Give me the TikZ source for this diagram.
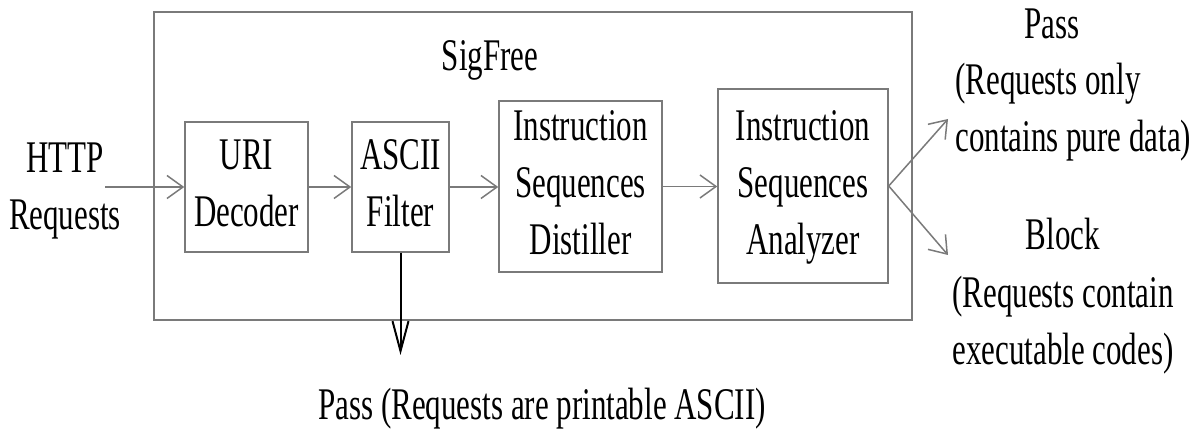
\documentclass[tikz,border=0pt]{standalone}
\usepackage{fontspec}
\setmainfont{Liberation Serif}
\usepackage{graphicx}
\usetikzlibrary{arrows.meta}
\definecolor{boxgray}{HTML}{7A7A7A}
\newcommand{\vsc}[1]{\scalebox{1}[1.46]{#1}}
\newcommand{\stk}[1]{\vsc{\begin{tabular}{@{}c@{}}#1\end{tabular}}}
\begin{document}
\begin{tikzpicture}[x=0.5pt,y=-0.5pt,
  lbl/.style={font=\fontsize{15.5pt}{19.5pt}\selectfont, inner sep=0pt},
  blk/.style={draw=boxgray, line width=0.75pt, inner sep=0pt, font=\fontsize{15.5pt}{19.5pt}\selectfont},
  conn/.style={draw=boxgray, line width=0.75pt, -{Straight Barb[length=8pt,width=11.5pt]}},
  downarr/.style={draw=black, line width=1pt, -{Straight Barb[length=15pt,width=8pt]}}]
\useasboundingbox (0,0) rectangle (1200,432);

% container
\node[blk, minimum width=379pt, minimum height=154pt] (sigfree) at (533,166) {};
\node[lbl, anchor=base] (sftitle) at (490,71) {\vsc{SigFree}};

% stages
\node[blk, minimum width=61.5pt, minimum height=65pt] (uri) at (246.5,187) {\stk{URI\\Decoder}};
\node[blk, minimum width=48.5pt, minimum height=65pt] (ascii) at (400.5,187) {\stk{ASCII\\Filter}};
\node[blk, minimum width=81.5pt, minimum height=83.5pt] (dist) at (580.5,186.5) {\stk{Instruction\\Sequences\\Distiller}};
\node[blk, minimum width=85pt, minimum height=97pt] (ana) at (803,186) {\stk{Instruction\\Sequences\\Analyzer}};

% input
\node[lbl, anchor=base] (http) at (65,173) {\vsc{\begin{tabular}[t]{@{}c@{}}HTTP\\Requests\end{tabular}}};

% outputs
\node[lbl, anchor=base] (passT) at (1052,39) {\vsc{Pass}};
\node[lbl, anchor=base west] (passA) at (955,95) {\vsc{(Requests only}};
\node[lbl, anchor=base west] (passB) at (955,152) {\vsc{contains pure data)}};
\node[lbl, anchor=base] (blockT) at (1063,250) {\vsc{Block}};
\node[lbl, anchor=base west] (blockA) at (952,308) {\vsc{(Requests contain}};
\node[lbl, anchor=base west] (blockB) at (952,365) {\vsc{executable codes)}};
\node[lbl, anchor=base] (bottom) at (542,420) {\vsc{Pass (Requests are printable ASCII)}};

% connectors
\coordinate (in) at (105,187);
\coordinate (outP) at (948,119);
\coordinate (outB) at (948,255);
\coordinate (outA) at (400.5,355);
\draw[conn] (in) -- (uri.west);
\draw[conn] (uri.east) -- (ascii.west);
\draw[conn] (ascii.east) -- (ascii.east -| dist.west);
\draw[conn] (dist.east) -- (dist.east -| ana.west);
\draw[conn] (ana.east) -- (outP);
\draw[conn] (ana.east) -- (outB);
\draw[downarr] (ascii.south) -- (outA);
\end{tikzpicture}
\end{document}
